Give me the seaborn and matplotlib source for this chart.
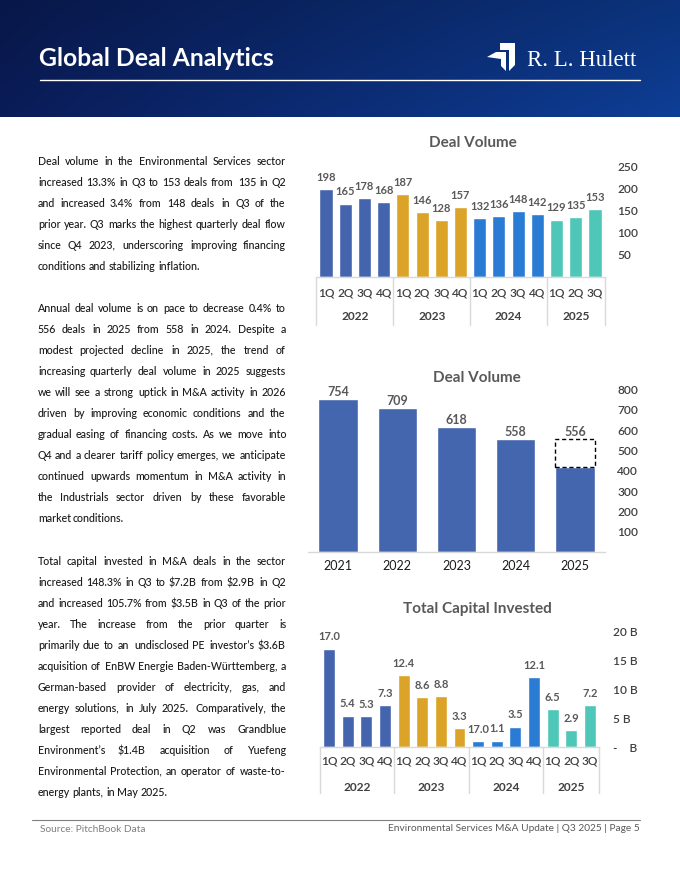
import matplotlib

matplotlib.use("Agg")
import matplotlib.pyplot as plt
import matplotlib.transforms as mtransforms
import numpy as np
import pandas as pd
import seaborn as sns
from matplotlib.patches import Polygon

FIG_W, FIG_H = 680, 880
OUT_PATH = "out.png"

# quarterly deal volume
QUARTERS = ["1Q", "2Q", "3Q", "4Q", "1Q", "2Q", "3Q", "4Q", "1Q", "2Q", "3Q", "4Q", "1Q", "2Q", "3Q"]
QUARTER_YEARS = ["2022"] * 4 + ["2023"] * 4 + ["2024"] * 4 + ["2025"] * 3
QUARTERLY_DEALS = [198, 165, 178, 168, 187, 146, 128, 157, 132, 136, 148, 142, 129, 135, 153]

# annual deal volume (2025 = YTD actual + projected full year)
YEARS = ["2021", "2022", "2023", "2024", "2025"]
ANNUAL_DEALS = [754, 709, 618, 558, 417]
PROJECTED_2025 = 556
ANNUAL_LABELS = ["754", "709", "618", "558", "556"]

# total capital invested ($B)
CAPITAL_B = [17.0, 5.4, 5.3, 7.3, 12.4, 8.6, 8.8, 3.3, 1.0, 1.1, 3.5, 12.1, 6.5, 2.9, 7.2]
CAPITAL_LABELS = ["17.0", "5.4", "5.3", "7.3", "12.4", "8.6", "8.8", "3.3", "17.0", "1.1", "3.5", "12.1", "6.5", "2.9", "7.2"]
CAPITAL_TICKS = [0, 5, 10, 15, 20]
CAPITAL_TICK_LABELS = ["-    B", "5 B", "10 B", "15 B", "20 B"]

YEAR_COLORS = {"2022": "#4464ad", "2023": "#dba327", "2024": "#2a7bd4", "2025": "#4ec6b8"}
ANNUAL_COLOR = "#4466ae"
LABEL_GRAY = "#595959"
AXIS_GRAY = "#404040"
GRID_GRAY = "#d9d9d9"
TEXT_COLOR = "#1a1a1a"

PARAGRAPHS = [
    [
        "Deal volume in the Environmental Services sector",
        "increased 13.3% in Q3 to 153 deals from 135 in Q2",
        "and increased 3.4% from 148 deals in Q3 of the",
        "prior year. Q3 marks the highest quarterly deal flow",
        "since Q4 2023, underscoring improving financing",
        "conditions and stabilizing inflation.",
    ],
    [
        "Annual deal volume is on pace to decrease 0.4% to",
        "556 deals in 2025 from 558 in 2024. Despite a",
        "modest projected decline in 2025, the trend of",
        "increasing quarterly deal volume in 2025 suggests",
        "we will see a strong uptick in M&A activity in 2026",
        "driven by improving economic conditions and the",
        "gradual easing of financing costs. As we move into",
        "Q4 and a clearer tariff policy emerges, we anticipate",
        "continued upwards momentum in M&A activity in",
        "the Industrials sector driven by these favorable",
        "market conditions.",
    ],
    [
        "Total capital invested in M&A deals in the sector",
        "increased 148.3% in Q3 to $7.2B from $2.9B in Q2",
        "and increased 105.7% from $3.5B in Q3 of the prior",
        "year. The increase from the prior quarter is",
        "primarily due to an undisclosed PE investor\u2019s $3.6B",
        "acquisition of EnBW Energie Baden-W\u00fcrttemberg, a",
        "German-based provider of electricity, gas, and",
        "energy solutions, in July 2025. Comparatively, the",
        "largest reported deal in Q2 was Grandblue",
        "Environment\u2019s $1.4B acquisition of Yuefeng",
        "Environmental Protection, an operator of waste-to-",
        "energy plants, in May 2025.",
    ],
]
PARAGRAPH_TOPS = [161, 308, 561]
BODY_FONT = ["Lato", "DejaVu Sans"]


def fx(px):
    return px / FIG_W


def fy(py):
    return 1 - py / FIG_H


def add_axes_px(fig, left, top, right, bottom):
    return fig.add_axes([fx(left), fy(bottom), (right - left) / FIG_W, (bottom - top) / FIG_H])


def draw_header(fig):
    ax = fig.add_axes([0, fy(117), 1, 117 / FIG_H])
    tx = np.linspace(0, 1, 200)[None, :, None]
    ty = np.linspace(0, 1, 40)[:, None, None]
    left = np.array([10, 28, 88]) / 255
    right = np.array([14, 62, 150]) / 255
    grad = left + (right - left) * tx
    grad = grad * (0.82 + 0.18 * ty)
    ax.imshow(np.clip(grad, 0, 1), aspect="auto", extent=[0, 1, 0, 1], origin="upper")
    ax.set_axis_off()

    fig.text(fx(39), fy(58), "Global Deal Analytics", color="white", fontsize=17.8,
             fontweight="bold", va="center", ha="left", family="Lato")
    fig.add_artist(plt.Line2D([fx(40), fx(640)], [fy(80), fy(80)], color="white", lw=1))

    # logo icon
    pts_a = [(500, 43), (515, 43), (515, 65), (509, 71), (509, 50), (500, 50)]
    pts_b = [(487, 57), (496, 52), (506, 52), (506, 71), (501, 66), (501, 59)]
    for pts in (pts_a, pts_b):
        fig.add_artist(Polygon([(fx(x), fy(y)) for x, y in pts], closed=True,
                               facecolor="white", edgecolor="none", transform=fig.transFigure))
    fig.text(fx(527), fy(61), "R. L. Hulett", color="white", fontsize=16.4,
             va="center", ha="left", family="Liberation Serif")


def draw_body_text(fig):
    renderer = fig.canvas.get_renderer()
    x0, x1 = 37.5, 286
    step = 21.05

    def measure(s, size):
        t = fig.text(0, 0, s, fontsize=size, family=BODY_FONT, fontweight="medium",
                     parse_math=False)
        w = t.get_window_extent(renderer).width
        t.remove()
        return w

    # pick a size so the widest line fits the column
    probe = 10
    widest = max(measure(line, probe) for para in PARAGRAPHS for line in para)
    size = min(8.3, probe * (x1 - x0) / widest * 0.99)
    space_w = measure("x x", size) - measure("xx", size)
    base_shift = 0.36 * size * 100 / 72

    # justified: one text per word, baseline snapped to a whole pixel
    for para, top in zip(PARAGRAPHS, PARAGRAPH_TOPS):
        for i, line in enumerate(para):
            base_px = round(top + i * step + base_shift)
            words = line.split()
            texts = [fig.text(0, fy(base_px), w, fontsize=size, family=BODY_FONT,
                              fontweight="medium", color=TEXT_COLOR, va="baseline", ha="left",
                              parse_math=False)
                     for w in words]
            widths = [t.get_window_extent(renderer).width for t in texts]
            last = i == len(para) - 1
            if last or len(words) == 1:
                gap = space_w
            else:
                gap = (x1 - x0 - sum(widths)) / (len(words) - 1)
            x = x0
            for t, word, w in zip(texts, words, widths):
                # undo the one-pixel rounding Agg applies from the glyph box fractions
                _, h, d = renderer.get_text_width_height_descent(word, t.get_fontproperties(), ismath=False)
                fd = d % 1
                fa = (h - d) % 1
                corr = int(fd >= 0.5) - int(fa + fd >= 1)
                t.set_position((fx(round(x)), fy(base_px - corr)))
                x += w + gap


def style_axes(ax, ticks, tick_labels, pad):
    sns.despine(ax=ax, left=True, right=True, top=True)
    ax.spines["bottom"].set_color(GRID_GRAY)
    ax.spines["bottom"].set_linewidth(1)
    ax.yaxis.tick_right()
    ax.set_yticks(ticks)
    ax.set_yticklabels(tick_labels)
    ax.tick_params(axis="y", length=0, pad=pad, labelsize=8.6, labelcolor=AXIS_GRAY)
    for lab in ax.get_yticklabels():
        lab.set_fontweight("semibold")
    ax.set_xlabel("")
    ax.set_ylabel("")
    ax.grid(False)
    ax.set_facecolor("none")


def draw_grouped_axis(ax, years, q_pad_px, year_px, sep_px):
    trans = mtransforms.blended_transform_factory(ax.transData, ax.transAxes)
    h_px = ax.get_position().height * FIG_H
    ax.set_xticks(range(len(QUARTERS)))
    ax.set_xticklabels(QUARTERS)
    ax.tick_params(axis="x", length=0, pad=q_pad_px * 0.72, labelsize=8.6, labelcolor=AXIS_GRAY)
    for lab in ax.get_xticklabels():
        lab.set_fontweight("semibold")

    idx = pd.Series(range(len(years)))
    groups = idx.groupby(pd.Series(years))
    bounds = [-0.5]
    for yr, pos in groups:
        bounds.append(pos.max() + 0.5)
        ax.text(pos.mean(), -year_px / h_px, yr, transform=trans, ha="center", va="center",
                fontsize=8.6, color=AXIS_GRAY, fontweight="bold", family="Lato")
    for b in bounds:
        ax.plot([b, b], [0, -sep_px / h_px], transform=trans, color=GRID_GRAY, lw=1, clip_on=False)


def draw_quarterly_chart(fig):
    ax = add_axes_px(fig, 316.4, 166, 604.6, 276.7)
    df = pd.DataFrame({"slot": [f"{y}-{q}" for y, q in zip(QUARTER_YEARS, QUARTERS)],
                       "year": QUARTER_YEARS, "deals": QUARTERLY_DEALS})
    sns.barplot(data=df, x="slot", y="deals", hue="year", palette=YEAR_COLORS, width=0.68,
                saturation=1, legend=False, ax=ax)
    ax.set_ylim(0, 250)
    ax.set_xlim(-0.5, len(df) - 0.5)
    style_axes(ax, [50, 100, 150, 200, 250], ["50", "100", "150", "200", "250"], 9)
    for i, v in enumerate(df["deals"]):
        ax.annotate(str(v), (i, v), xytext=(0, 8.5), textcoords="offset points", ha="center",
                    va="center", fontsize=8, color=LABEL_GRAY, fontweight="bold",
                    family="Lato", annotation_clip=False)
    draw_grouped_axis(ax, QUARTER_YEARS, 11, 40, 48)
    fig.text(fx(473), fy(143), "Deal Volume", ha="center", va="center", fontsize=11,
             fontweight="bold", color=LABEL_GRAY, family="Lato")


def draw_annual_chart(fig):
    ax = add_axes_px(fig, 308.4, 389.7, 604.6, 552)
    df = pd.DataFrame({"year": YEARS, "deals": ANNUAL_DEALS})
    sns.barplot(data=df, x="year", y="deals", color=ANNUAL_COLOR, width=0.66, saturation=1, ax=ax)
    last = len(YEARS) - 1
    ax.bar(last, PROJECTED_2025 - ANNUAL_DEALS[last], bottom=ANNUAL_DEALS[last], width=0.66,
           facecolor="white", edgecolor="black", linestyle=(0, (3, 2)), linewidth=1)
    ax.set_ylim(0, 800)
    ax.set_xlim(-0.5, len(YEARS) - 0.5)
    ticks = list(range(100, 900, 100))
    style_axes(ax, ticks, [str(t) for t in ticks], 9)
    ax.tick_params(axis="x", length=0, pad=6, labelsize=9, labelcolor=TEXT_COLOR)
    tops = ANNUAL_DEALS[:last] + [PROJECTED_2025]
    for i, (v, lab) in enumerate(zip(tops, ANNUAL_LABELS)):
        ax.annotate(lab, (i, v), xytext=(0, 5), textcoords="offset points", ha="center",
                    va="center", fontsize=9, color=LABEL_GRAY, fontweight="bold",
                    family="Lato", annotation_clip=False)
    fig.text(fx(477), fy(378), "Deal Volume", ha="center", va="center", fontsize=11,
             fontweight="bold", color=LABEL_GRAY, family="Lato")


def draw_capital_chart(fig):
    ax = add_axes_px(fig, 319.7, 631.4, 599.3, 747)
    df = pd.DataFrame({"slot": [f"{y}-{q}" for y, q in zip(QUARTER_YEARS, QUARTERS)],
                       "year": QUARTER_YEARS, "capital": CAPITAL_B})
    sns.barplot(data=df, x="slot", y="capital", hue="year", palette=YEAR_COLORS, width=0.64,
                saturation=1, legend=False, ax=ax)
    ax.set_ylim(0, 20)
    ax.set_xlim(-0.5, len(df) - 0.5)
    style_axes(ax, CAPITAL_TICKS, CAPITAL_TICK_LABELS, 10)
    for i, (v, lab) in enumerate(zip(CAPITAL_B, CAPITAL_LABELS)):
        ax.annotate(lab, (i, v), xytext=(0, 8.5), textcoords="offset points", ha="center",
                    va="center", fontsize=8, color=LABEL_GRAY, fontweight="bold",
                    family="Lato", annotation_clip=False)
    draw_grouped_axis(ax, QUARTER_YEARS, 8, 40, 46)
    fig.text(fx(477), fy(609), "Total Capital Invested", ha="center", va="center", fontsize=11,
             fontweight="bold", color=LABEL_GRAY, family="Lato")


def draw_footer(fig):
    fig.add_artist(plt.Line2D([fx(32), fx(640)], [fy(820), fy(820)], color="#7f7f7f", lw=0.8))
    fig.text(fx(40), fy(829), "Source: PitchBook Data", fontsize=7.3, color="#7f7f7f",
             va="center", ha="left", family="Lato")
    fig.text(fx(640), fy(828), "Environmental Services M&A Update | Q3 2025 | Page 5", fontsize=7.3,
             color="#595959", va="center", ha="right", family="Lato")


def main():
    sns.set_theme(style="white")
    plt.rcParams["font.family"] = ["Lato", "DejaVu Sans"]
    fig = plt.figure(figsize=(FIG_W / 100, FIG_H / 100), dpi=100)
    fig.patch.set_facecolor("white")

    draw_header(fig)
    draw_body_text(fig)
    draw_quarterly_chart(fig)
    draw_annual_chart(fig)
    draw_capital_chart(fig)
    draw_footer(fig)

    fig.savefig(OUT_PATH, dpi=100)
    plt.close(fig)


if __name__ == "__main__":
    main()
